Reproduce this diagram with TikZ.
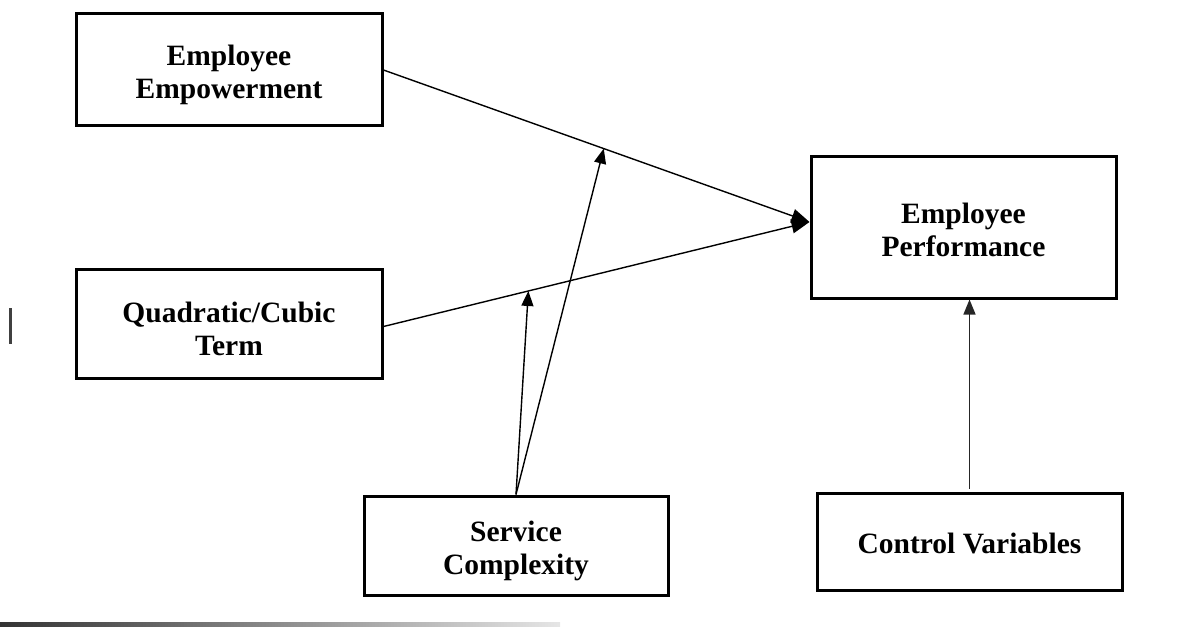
\documentclass[tikz,border=0pt]{standalone}
\usepackage{fontspec}
\setmainfont{Liberation Serif}
\usetikzlibrary{arrows.meta}
\newcommand{\topgap}{\rule{0pt}{32pt}}
\tikzset{
  box/.style={draw, line width=3pt, inner sep=0pt, align=center,
    font=\fontsize{29.5}{33}\selectfont\bfseries},
  conn/.style={line width=1.4pt, -{Triangle[length=15pt,width=12pt]}},
}
\begin{document}
\begin{tikzpicture}[x=1pt,y=-1pt]
\useasboundingbox (0,0) rectangle (1190,627);
\node[box, minimum width=306pt, minimum height=112pt] (ee) at (229,69) {\topgap Employee\\Empowerment};
\node[box, minimum width=306pt, minimum height=109pt] (qc) at (229,323.5) {\topgap Quadratic/Cubic\\Term};
\node[box, minimum width=304pt, minimum height=99pt] (sc) at (516,545.5) {\topgap Service\\Complexity};
\node[box, minimum width=305pt, minimum height=142pt] (ep) at (963.5,227) {\rule{0pt}{26pt}Employee\\Performance};
\node[box, minimum width=305pt, minimum height=97pt] (cv) at (969.5,541.5) {\rule{0pt}{24pt}Control Variables};
% main paths
\coordinate (eps) at ([yshift=5pt]ep.west);
\coordinate (ees) at ([yshift=-1pt]ee.east);
\coordinate (qcs) at ([yshift=-3pt]qc.east);
\draw[conn, -{Triangle[length=18pt,width=14pt]}] (ees) -- (eps);
\draw[conn, -{Triangle[length=18pt,width=14pt]}] (qcs) -- (eps);
\path (ees) -- (eps) coordinate[pos=0.517] (m1);
\path (qcs) -- (eps) coordinate[pos=0.34] (m2);
% moderation arrows
\draw[conn] (sc.north) -- (m1);
\draw[conn] (sc.north) -- (m2);
% control variables
\coordinate (cvs) at ([xshift=0pt,yshift=3pt]cv.north);
\draw[conn, draw=black!85, fill=black] (cvs) -- (cvs |- ep.south);
% stray marks
\coordinate (s1) at (10,308);
\coordinate (s2) at (10,344);
\draw[line width=3pt, black!75] (s1) -- (s2);
\shade[left color=black!80, right color=black!10] (0,622) rectangle (560,626.5);
\end{tikzpicture}
\end{document}
